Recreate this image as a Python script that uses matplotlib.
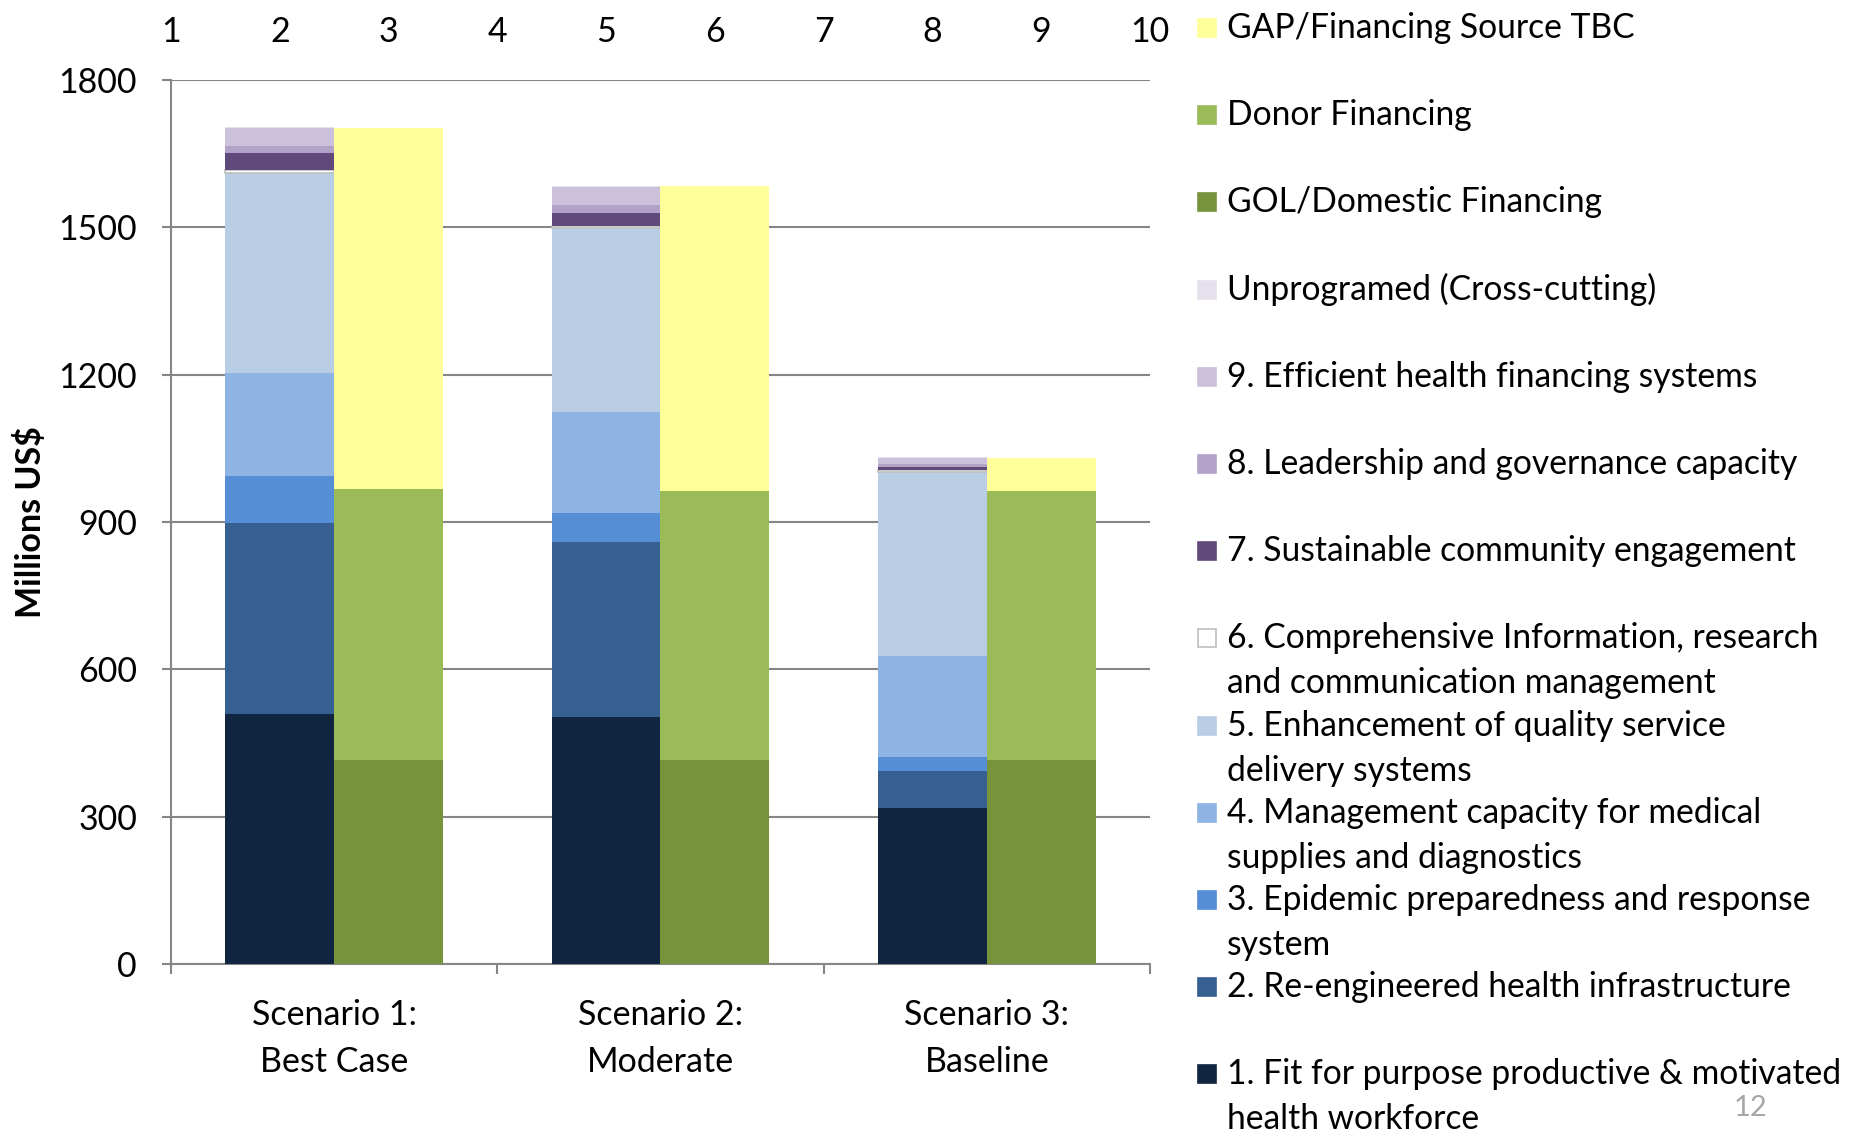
import matplotlib
matplotlib.use("Agg")
import matplotlib.pyplot as plt
from matplotlib.patches import Rectangle

# ---------------- data ----------------
scenarios = ["Scenario 1:\nBest Case", "Scenario 2:\nModerate", "Scenario 3:\nBaseline"]
top_ticks = [1, 2, 3, 4, 5, 6, 7, 8, 9, 10]

# programme areas (left bar of each pair), bottom to top
prog_names = [
    "1. Fit for purpose productive & motivated\nhealth workforce",
    "2. Re-engineered health infrastructure",
    "3. Epidemic preparedness and response\nsystem",
    "4. Management capacity for medical\nsupplies and diagnostics",
    "5. Enhancement of quality service\ndelivery systems",
    "6. Comprehensive Information, research\nand communication management",
    "7. Sustainable community engagement",
    "8. Leadership and governance capacity",
    "9. Efficient health financing systems",
    "Unprogramed (Cross-cutting)",
]
prog_values = [
    [510, 503, 318],   # 1
    [387, 356, 74],    # 2
    [97, 59, 29],      # 3
    [210, 207, 206],   # 4
    [407, 373, 374],   # 5
    [5.5, 5.5, 4],     # 6
    [34, 26.5, 7],     # 7
    [15, 15, 6],       # 8
    [37, 38, 13],      # 9
    [1, 1, 1],         # Unprogramed
]
prog_colors = ["#10253F", "#366092", "#558ED5", "#8EB4E3", "#B9CDE5",
               "#FFFFFF", "#604A7B", "#B3A2C7", "#CCC1DA", "#E6E0EC"]

# financing sources (right bar of each pair), bottom to top
fin_names = ["GOL/Domestic Financing", "Donor Financing", "GAP/Financing Source TBC"]
fin_values = [
    [416, 416, 416],
    [552, 547, 547],
    [735, 621, 68],
]
fin_colors = ["#77933C", "#9BBB59", "#FFFF99"]

# ---------------- figure ----------------
W, H = 1855, 1138
FS = 24.5
fig = plt.figure(figsize=(W / 100, H / 100), dpi=100)
plt.rcParams["font.family"] = ["Lato", "DejaVu Sans"]

ax = fig.add_axes([171 / W, 1 - 964 / H, 979 / W, 884 / H])
grid_c = "#868686"

centers = [i + 0.5 for i in range(len(scenarios))]
bw = 1 / 3
left_x = [c - bw / 2 for c in centers]
right_x = [c + bw / 2 for c in centers]

bottom = [0.0] * len(scenarios)
for vals, col, name in zip(prog_values, prog_colors, prog_names):
    if col == "#FFFFFF":
        ax.bar(left_x, vals, bw, bottom=bottom, color=col, edgecolor="#BFBFBF",
               linewidth=1.2, zorder=3)
    else:
        ax.bar(left_x, vals, bw, bottom=bottom, color=col, linewidth=0, zorder=3)
    bottom = [b + v for b, v in zip(bottom, vals)]

bottom = [0.0] * len(scenarios)
for vals, col in zip(fin_values, fin_colors):
    ax.bar(right_x, vals, bw, bottom=bottom, color=col, linewidth=0, zorder=3)
    bottom = [b + v for b, v in zip(bottom, vals)]

ax.set_xlim(0, 3)
ax.set_ylim(0, 1800)
ax.set_yticks(range(0, 1801, 300))
ax.yaxis.grid(True, color=grid_c, linewidth=1.5, zorder=0)
ax.set_axisbelow(True)
for s in ["top", "right"]:
    ax.spines[s].set_visible(False)
for s in ["left", "bottom"]:
    ax.spines[s].set_color(grid_c)
    ax.spines[s].set_linewidth(1.5)

ax.tick_params(axis="y", direction="out", length=6.5, width=1.5, color=grid_c,
               labelsize=FS, pad=18)
ax.set_xticks([0, 1, 2, 3])
ax.set_xticklabels([])
ax.tick_params(axis="x", which="major", direction="out", length=7, width=1.5, color=grid_c)
ax.set_xticks(centers, minor=True)
ax.set_xticklabels(scenarios, minor=True, fontsize=FS, linespacing=1.57)
ax.tick_params(axis="x", which="minor", length=0, pad=25)

ax.set_ylabel("Millions US$", fontsize=FS, fontweight="bold")
ax.yaxis.set_label_coords((47 - 171) / 979, 0.5)

sec = ax.secondary_xaxis("top", functions=(lambda x: 3 * x + 1, lambda n: (n - 1) / 3))
sec.set_xticks(top_ticks)
sec.tick_params(length=0, labelsize=FS, pad=23)
sec.spines["top"].set_visible(False)

# ---------------- legend (manual, Excel style slots) ----------------
leg_names = fin_names[::-1] + prog_names[::-1]
leg_colors = fin_colors[::-1] + prog_colors[::-1]
y0, dy, line_dy = 28, 87.2, 45
for i, (name, col) in enumerate(zip(leg_names, leg_colors)):
    yc = y0 + i * dy
    ec = "#BFBFBF" if col == "#FFFFFF" else col
    fig.add_artist(Rectangle((1198 / W, 1 - (yc + 9) / H), 18 / W, 18 / H,
                             transform=fig.transFigure, facecolor=col,
                             edgecolor=ec, linewidth=1.2))
    for j, line in enumerate(name.split("\n")):
        fig.text(1227 / W, 1 - (yc + j * line_dy) / H, line, fontsize=FS - 0.3,
                 va="center", ha="left")

fig.text(1751 / W, 1 - 1108 / H, "12", fontsize=21, color="#A6A6A6",
         ha="center", va="center")

fig.savefig("out.png", dpi=100)
